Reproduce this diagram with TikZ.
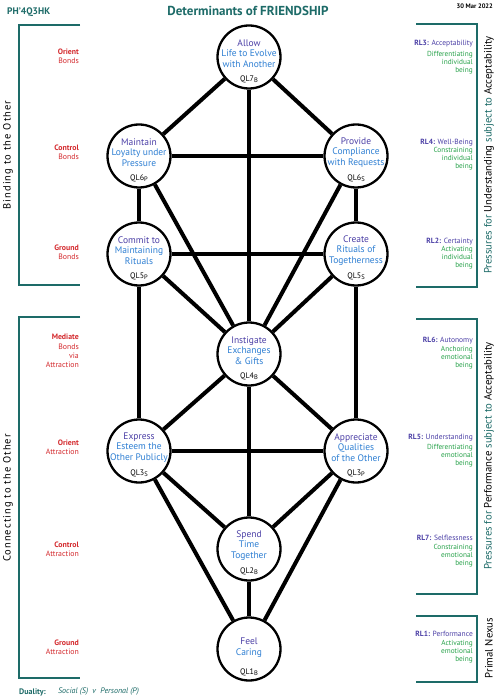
\documentclass[tikz,border=0pt]{standalone}
\usepackage{fontspec}
\setmainfont{PT Sans}
\definecolor{teal1}{HTML}{1D6B68}
\definecolor{redl}{HTML}{D42A2E}
\definecolor{indig}{HTML}{4B3FA6}
\definecolor{blu}{HTML}{2E7FD3}
\definecolor{grn}{HTML}{27A24A}
\newcommand\qlsub[2]{#1\raisebox{-0.35ex}{\fontsize{6.5}{7}\selectfont #2}}
\begin{document}
\begin{tikzpicture}[x=1pt,y=-1pt,
 qlcirc/.style={circle,draw=black,fill=white,line width=2.3pt,minimum size=63pt,inner sep=0pt},
 qltext/.style={align=center,inner sep=0pt,font=\fontsize{9.5}{10.5}\selectfont,text=blu},
 qllab/.style={inner sep=0pt,font=\fontsize{8}{9}\selectfont},
 link/.style={line width=4pt},
 bracket/.style={draw=teal1,line width=2pt},
 leftlab/.style={align=right,anchor=east,inner sep=0pt,text=redl,font=\fontsize{7.8}{9.2}\selectfont},
 rltitle/.style={anchor=east,inner sep=0pt,text=indig,font=\fontsize{7.5}{9}\selectfont},
 rlsub/.style={align=right,anchor=east,inner sep=0pt,text=grn,font=\fontsize{7.3}{8}\selectfont},
 vlab/.style={rotate=90,inner sep=0pt,font=\fontsize{10.7}{12}\selectfont},
]
\fill[white] (0,0) rectangle (499,700);
\path[use as bounding box] (0,0) rectangle (499,700);

% header
\node[anchor=west,inner sep=0pt,text=teal1,font=\bfseries\fontsize{9.5}{11}\selectfont] (code) at (7,12) {PH’4Q3HK};
\node[inner sep=0pt,text=teal1,font=\bfseries\fontsize{13}{15}\selectfont] (title) at (248,11) {Determinants of FRIENDSHIP};
\node[anchor=east,inner sep=0pt,font=\bfseries\fontsize{6.5}{8}\selectfont] (date) at (493,6) {30 Mar 2022};

% circles
\newcommand\qlnode[6]{%
 \node[qlcirc] (#1) at (#2,#3) {};
 \node[qltext] (#1-t) at (#2,#3-3.5) {{\color{indig}#4}\\#5};
 \node[qllab] (#1-l) at (#2,#3+22) {#6};
}
\qlnode{ql7}{249}{57}{Allow}{Life to Evolve\\with Another}{\qlsub{QL7}{B}}
\qlnode{ql6p}{139}{156}{Maintain}{Loyalty under\\Pressure}{\qlsub{QL6}{P}}
\qlnode{ql6s}{356}{156}{Provide}{Compliance\\with Requests}{\qlsub{QL6}{S}}
\qlnode{ql5p}{139}{254}{Commit to}{Maintaining\\Rituals}{\qlsub{QL5}{P}}
\qlnode{ql5s}{356}{254}{Create}{Rituals of\\Togetherness}{\qlsub{QL5}{S}}
\qlnode{ql4}{249}{354}{Instigate}{Exchanges\\\& Gifts}{\qlsub{QL4}{B}}
\qlnode{ql3s}{139}{451}{Express}{Esteem the\\Other Publicly}{\qlsub{QL3}{S}}
\qlnode{ql3p}{356}{451}{Appreciate}{Qualities\\of the Other}{\qlsub{QL3}{P}}
\qlnode{ql2}{249}{549}{Spend}{Time\\Together}{\qlsub{QL2}{B}}
\node[qlcirc] (ql1) at (249,649) {};
\node[qltext] (ql1-t) at (249,647.5) {{\color{indig}Feel}\\Caring};
\node[qllab] (ql1-l) at (249,672) {\qlsub{QL1}{B}};

% links
\foreach \a/\b in {ql7/ql6p,ql7/ql6s,ql7/ql4,ql6p/ql6s,ql6p/ql5p,ql6s/ql5s,ql6p/ql4,ql6s/ql4,
  ql5p/ql5s,ql5p/ql4,ql5s/ql4,ql5p/ql3s,ql5s/ql3p,ql4/ql3s,ql4/ql3p,ql4/ql2,ql3s/ql3p,
  ql3s/ql2,ql3s/ql1,ql3p/ql2,ql3p/ql1,ql2/ql1}
  \draw[link] (\a) -- (\b);

% left brackets
\draw[bracket] (80,25) -- (19,25) -- (19,285) -- (80,285);
\draw[bracket] (80,317) -- (19,317) -- (19,678) -- (80,678);
\node[vlab,font=\fontsize{10.5}{12}\selectfont\addfontfeatures{LetterSpace=10}] (bind) at (8,155) {Binding to the Other};
\node[vlab,font=\fontsize{10.5}{12}\selectfont\addfontfeatures{LetterSpace=10}] (conn) at (8,498) {Connecting to the Other};

\node[leftlab] (l1) at (79,56.5) {\textbf{Orient}\\Bonds};
\node[leftlab] (l2) at (79,152.5) {\textbf{Control}\\Bonds};
\node[leftlab] (l3) at (79,252.5) {\textbf{Ground}\\Bonds};
\node[leftlab] (l4) at (79,351) {\textbf{Mediate}\\Bonds\\via\\Attraction};
\node[leftlab] (l5) at (79,447.5) {\textbf{Orient}\\Attraction};
\node[leftlab] (l6) at (79,549) {\textbf{Control}\\Attraction};
\node[leftlab] (l7) at (79,647.5) {\textbf{Ground}\\Attraction};

% right brackets
\draw[bracket] (416,24) -- (477,24) -- (477,287) -- (416,287);
\draw[bracket] (416,319) -- (477,319) -- (477,594) -- (416,594);
\draw[bracket] (416,616) -- (477,616) -- (477,682) -- (416,682);
\node[vlab] (pu) at (489,155) {\textcolor{teal1}{Pressures for} Understanding \textcolor{teal1}{subject to} Acceptability};
\node[vlab] (pp) at (489,456) {\textcolor{teal1}{Pressures for} Performance \textcolor{teal1}{subject to} Acceptability};
\node[vlab] (pn) at (489,648) {Primal Nexus};

\node[rltitle] (rl3) at (473,44) {\textbf{RL3:} Acceptability};
\node[rlsub] (rl3d) at (473,63) {Differentiating\\individual\\being};
\node[rltitle] (rl4) at (473,143) {\textbf{RL4:} Well-Being};
\node[rlsub] (rl4d) at (473,159) {Constraining\\individual\\being};
\node[rltitle] (rl2) at (473,242) {\textbf{RL2:} Certainty};
\node[rlsub] (rl2d) at (473,258) {Activating\\individual\\being};
\node[rltitle] (rl6) at (473,341) {\textbf{RL6:} Autonomy};
\node[rlsub] (rl6d) at (473,358) {Anchoring\\emotional\\being};
\node[rltitle] (rl5) at (473,438) {\textbf{RL5:} Understanding};
\node[rlsub] (rl5d) at (473,456) {Differentiating\\emotional\\being};
\node[rltitle] (rl7) at (473,538) {\textbf{RL7:} Selflessness};
\node[rlsub] (rl7d) at (473,556) {Constraining\\emotional\\being};
\node[rltitle] (rl1) at (473,634) {\textbf{RL1:} Performance};
\node[rlsub] (rl1d) at (473,652) {Activating\\emotional\\being};

% footer
\node[anchor=west,inner sep=0pt,text=teal1,font=\bfseries\fontsize{8}{9}\selectfont] (dual) at (19,692) {Duality:};
\node[anchor=west,inner sep=0pt,text=teal1,font=\itshape\fontsize{8}{9}\selectfont] (dualv) at (58,692) {Social (S) \ v \ Personal (P)};
\end{tikzpicture}
\end{document}
